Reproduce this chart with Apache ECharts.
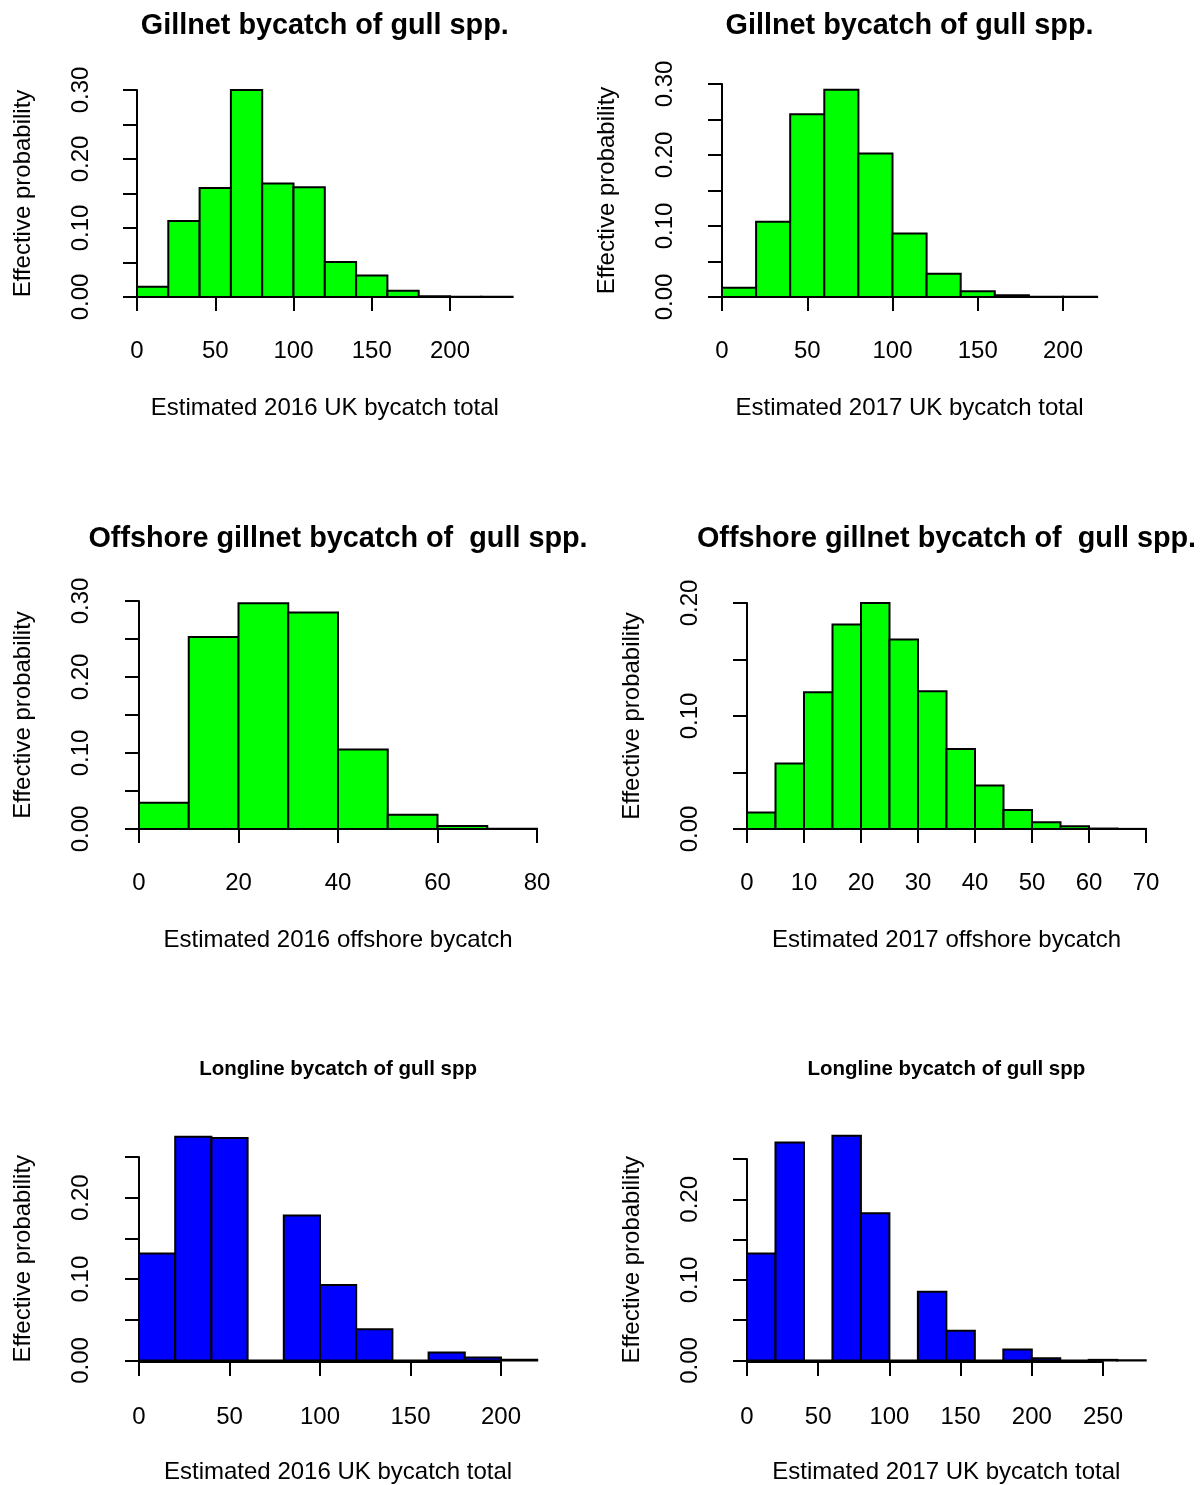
<!DOCTYPE html>
<html><head><meta charset="utf-8">
<script src="https://cdn.jsdelivr.net/npm/echarts@6/dist/echarts.min.js"></script>
<style>html,body{margin:0;padding:0;background:#fff}#c{width:1204px;height:1485px}</style>
</head><body><div id="c"></div>
<script>
// ---------- data ----------
const titles = [
  'Gillnet bycatch of gull spp.', 'Gillnet bycatch of gull spp.',
  'Offshore gillnet bycatch of  gull spp.', 'Offshore gillnet bycatch of  gull spp.',
  'Longline bycatch of gull spp', 'Longline bycatch of gull spp'
];
const xNames = [
  'Estimated 2016 UK bycatch total', 'Estimated 2017 UK bycatch total',
  'Estimated 2016 offshore bycatch', 'Estimated 2017 offshore bycatch',
  'Estimated 2016 UK bycatch total', 'Estimated 2017 UK bycatch total'
];
const yName = 'Effective probability';

const breaksGill2016 = [0,20,40,60,80,100,120,140,160,180,200,220,240];
const probGill2016   = [0.015,0.110,0.158,0.300,0.1645,0.159,0.0507,0.031,0.009,0.0012,0.0003,0.0002];

const breaksGill2017 = [0,20,40,60,80,100,120,140,160,180,200,220];
const probGill2017   = [0.0131,0.106,0.2574,0.292,0.202,0.0896,0.0328,0.008,0.0023,0.0005,0.0002];

const breaksOff2016 = [0,10,20,30,40,50,60,70,80];
const probOff2016   = [0.0347,0.2525,0.297,0.285,0.1045,0.0189,0.004,0.0003];

const breaksOff2017 = [0,5,10,15,20,25,30,35,40,45,50,55,60,65,70];
const probOff2017   = [0.0145,0.058,0.121,0.181,0.200,0.1678,0.1219,0.0707,0.0385,0.0169,0.0059,0.0024,0.0004,0.0001];

const breaksLong2016 = [0,20,40,60,80,100,120,140,160,180,200,220];
const probLong2016   = [0.1316,0.275,0.2734,0,0.178,0.0927,0.0385,0,0.0097,0.0036,0.001];

const breaksLong2017 = [0,20,40,60,80,100,120,140,160,180,200,220,240,260,280];
const probLong2017   = [0.1326,0.2705,0,0.279,0.1826,0,0.0854,0.037,0,0.0135,0.0029,0,0.0008,0.0003];

const xTickMax  = [200, 200, 80, 70, 200, 250];
const xTickStep = [50, 50, 20, 10, 50, 50];
const yTickMax  = [0.30, 0.30, 0.30, 0.20, 0.25, 0.25];
const yTickStep = 0.05;

const allBreaks = [breaksGill2016, breaksGill2017, breaksOff2016, breaksOff2017, breaksLong2016, breaksLong2017];
const allProbs  = [probGill2016, probGill2017, probOff2016, probOff2017, probLong2016, probLong2017];

// ---------- layout (pixels) ----------
const layout = [
  {x0:137, x200:450, v200:200, y0:297, yTop:90,   yLine:123, xLine:306, tTop:12,   tSize:28.8, color:'#00ff00'},
  {x0:722, x200:1063,v200:200, y0:297, yTop:84,   yLine:707, xLine:306, tTop:12,   tSize:28.8, color:'#00ff00'},
  {x0:139, x200:537, v200:80,  y0:829, yTop:601,  yLine:123, xLine:838, tTop:525,  tSize:28.8, color:'#00ff00'},
  {x0:747, x200:1146,v200:70,  y0:829, yTop:603,  yLine:732, xLine:838, tTop:525,  tSize:28.8, color:'#00ff00'},
  {x0:139, x200:501, v200:200, y0:1362,yTop:1157, yLine:123, xLine:1372,tTop:1059, tSize:20.5, color:'#0000ff'},
  {x0:747, x200:1103,v200:250, y0:1362,yTop:1159, yLine:732, xLine:1372,tTop:1059, tSize:20.5, color:'#0000ff'}
];

const FONT = "'Liberation Sans', Arial, Helvetica, sans-serif";
const LW = 2;

const grid = [], xAxis = [], yAxis = [], series = [], title = [];

layout.forEach((L, i) => {
  const br = allBreaks[i];
  const xEnd = br[br.length - 1];
  const pxu = (L.x200 - L.x0) / L.v200;
  const h = L.y0 - L.yTop;
  const plotW = pxu * xEnd;
  const center = L.x0 + plotW / 2;

  grid.push({left: L.x0, top: L.yTop, width: plotW, height: h});
  grid.push({left: L.x0, top: L.yTop, width: pxu * xTickMax[i], height: h});

  const gP = 2 * i, gX = 2 * i + 1;

  xAxis.push({
    gridIndex: gP, type: 'value', min: 0, max: xEnd,
    axisLine: {show: false}, axisTick: {show: false}, axisLabel: {show: false}, splitLine: {show: false},
    name: xNames[i], nameLocation: 'middle', nameGap: 99.5,
    nameTextStyle: {fontFamily: FONT, fontSize: 24, color: '#000'}
  });
  xAxis.push({
    gridIndex: gX, type: 'value', min: 0, max: xTickMax[i], interval: xTickStep[i],
    offset: L.xLine - L.y0,
    axisLine: {show: true, lineStyle: {color: '#000', width: LW}},
    axisTick: {show: true, inside: false, length: 14, lineStyle: {color: '#000', width: LW}},
    axisLabel: {show: true, margin: 33, fontFamily: FONT, fontSize: 24, color: '#000', showMinLabel: true, showMaxLabel: true},
    splitLine: {show: false}
  });
  yAxis.push({
    gridIndex: gP, type: 'value', min: 0, max: yTickMax[i], interval: yTickStep,
    offset: L.x0 - L.yLine,
    axisLine: {show: true, lineStyle: {color: '#000', width: LW}},
    axisTick: {show: true, inside: false, length: 14, lineStyle: {color: '#000', width: LW}},
    axisLabel: {
      show: true, rotate: 90, margin: 30, fontFamily: FONT, fontSize: 24, color: '#000',
      showMinLabel: true, showMaxLabel: true,
      formatter: v => (Math.abs(Math.round(v * 100) % 10) === 0 ? v.toFixed(2) : '')
    },
    splitLine: {show: false},
    name: yName, nameLocation: 'middle', nameGap: 88,
    nameTextStyle: {fontFamily: FONT, fontSize: 24, color: '#000'}
  });
  yAxis.push({
    gridIndex: gX, type: 'value', min: 0, max: yTickMax[i], show: false
  });

  const data = allProbs[i].map((p, k) => [br[k], br[k + 1], p]);
  series.push({
    type: 'custom', xAxisIndex: 2 * i, yAxisIndex: 2 * i, clip: false,
    data: data,
    encode: {x: [0, 1], y: 2},
    renderItem: (params, api) => {
      const a = api.coord([api.value(0), api.value(2)]);
      const b = api.coord([api.value(1), 0]);
      return {
        type: 'rect',
        shape: {x: a[0], y: a[1], width: b[0] - a[0], height: b[1] - a[1]},
        style: {fill: L.color, stroke: '#000', lineWidth: LW}
      };
    },
    silent: true, animation: false
  });

  title.push({
    text: titles[i], left: center, top: L.tTop, textAlign: 'center', padding: 0,
    textStyle: {fontFamily: FONT, fontSize: L.tSize, fontWeight: 'bold', color: '#000'}
  });
});

const chart = echarts.init(document.getElementById('c'), null, {renderer: 'canvas'});
chart.setOption({
  backgroundColor: '#fff',
  animation: false,
  title, grid, xAxis, yAxis, series
});
</script>
</body></html>
